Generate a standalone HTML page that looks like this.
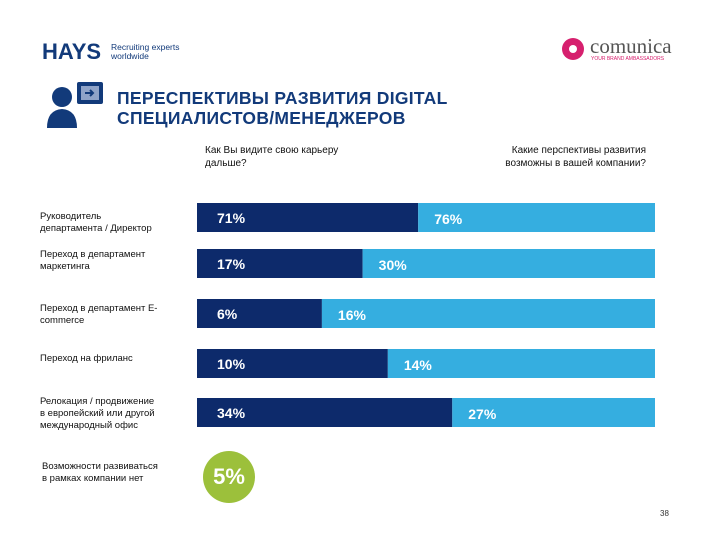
<!DOCTYPE html>
<html><head><meta charset="utf-8"><style>
body{margin:0;background:#fff;}
#wrap{position:relative;width:720px;height:540px;overflow:hidden;background:#fff;font-family:"Liberation Sans",sans-serif;}
.abs{position:absolute;}
.rl{position:absolute;left:40px;font-size:9.5px;color:#111;line-height:12px;width:140px;}
</style></head><body>
<div id="wrap">
  <div class="abs" style="left:42px;top:39px;font-size:22px;font-weight:900;color:#123a7a;">HAYS</div>
  <div class="abs" style="left:111px;top:43px;font-size:8.5px;color:#123a7a;line-height:9px;">Recruiting experts<br>worldwide</div>
  <div class="abs" style="left:562px;top:38px;">
    <div style="position:absolute;left:0;top:0;width:22px;height:22px;border-radius:50%;background:#d6206e;"></div>
    <div style="position:absolute;left:7px;top:7px;width:8px;height:8px;border-radius:50%;background:#fff;"></div>
    <div style="position:absolute;left:28px;top:-4px;font-family:'Liberation Serif',serif;font-size:21px;color:#555;">comunica</div>
    <div style="position:absolute;left:29px;top:18px;font-size:5px;color:#d6206e;white-space:nowrap;">YOUR BRAND AMBASSADORS</div>
  </div>
  <svg class="abs" style="left:45px;top:80px" width="60" height="50">
    <circle cx="17" cy="17" r="10" fill="#123a7a"/>
    <path d="M2 48 Q2 30 17 29 Q32 30 32 48 Z" fill="#123a7a"/>
    <rect x="32" y="2" width="26" height="22" rx="2" fill="#123a7a"/>
    <rect x="36" y="6" width="18" height="14" fill="#8fa3c8"/>
    <path d="M40 13 h8 M45 10 l3 3 l-3 3" stroke="#123a7a" stroke-width="2" fill="none"/>
  </svg>
  <div class="abs" style="left:117px;top:88px;font-size:17.5px;font-weight:bold;color:#123a7a;line-height:20px;letter-spacing:0.3px;white-space:nowrap;">ПЕРЕСПЕКТИВЫ РАЗВИТИЯ DIGITAL<br>СПЕЦИАЛИСТОВ/МЕНЕДЖЕРОВ</div>
  <div class="abs" style="left:205px;top:144px;font-size:10px;color:#111;line-height:13px;">Как Вы видите свою карьеру<br>дальше?</div>
  <div class="abs" style="left:460px;top:144px;width:186px;text-align:right;font-size:10px;color:#111;line-height:13px;">Какие перспективы развития<br>возможны в вашей компании?</div>
  <svg class="abs" id="chart" style="left:0;top:0" width="720" height="540"></svg>
  <div class="rl" style="top:211px;">Руководитель<br>департамента / Директор</div>
  <div class="rl" style="top:249px;">Переход в департамент<br>маркетинга</div>
  <div class="rl" style="top:303px;">Переход в департамент E-<br>commerce</div>
  <div class="rl" style="top:353px;">Переход на фриланс</div>
  <div class="rl" style="top:396px;">Релокация / продвижение<br>в европейский или другой<br>международный офис</div>
  <div class="rl" style="top:461px;left:42px;">Возможности развиваться<br>в рамках компании нет</div>
  <div class="abs" style="left:203px;top:451px;width:52px;height:52px;border-radius:50%;background:#9cc03b;color:#fff;font-size:22px;font-weight:bold;text-align:center;line-height:52px;">5%</div>
  <div class="abs" style="left:660px;top:509px;font-size:8px;color:#333;">38</div>
</div>
<script>
const categories=["Руководитель департамента / Директор","Переход в департамент маркетинга","Переход в департамент E-commerce","Переход на фриланс","Релокация / продвижение"];
const careerValues=[71,17,6,10,34];
const companyValues=[76,30,16,14,27];
const svg=document.getElementById('chart');
const NS='http://www.w3.org/2000/svg';
const x0=197,x1=655,barH=29;
const rowTops=[203,249,299,349,398];
function xSplit(i){return x0+(x1-x0)*careerValues[i]/(careerValues[i]+companyValues[i]);}
categories.forEach((c,i)=>{
  const y=rowTops[i];const xs=xSplit(i);
  const d=document.createElementNS(NS,'rect');
  d.setAttribute('x',x0);d.setAttribute('y',y);d.setAttribute('width',xs-x0);d.setAttribute('height',barH);d.setAttribute('fill','#0d2a6b');
  
  
  svg.appendChild(d);
  const l=document.createElementNS(NS,'rect');
  l.setAttribute('x',xs);l.setAttribute('y',y);l.setAttribute('width',x1-xs);l.setAttribute('height',barH);l.setAttribute('fill','#35aee0');
  
  
  svg.appendChild(l);
  const t1=document.createElementNS(NS,'text');
  t1.setAttribute('x',x0+20);t1.setAttribute('y',y+20);t1.setAttribute('fill','#fff');t1.setAttribute('font-size','14');t1.setAttribute('font-weight','bold');t1.setAttribute('font-family','Liberation Sans, sans-serif');
  t1.textContent=careerValues[i]+'%';
  
  
  svg.appendChild(t1);
  const t2=document.createElementNS(NS,'text');
  t2.setAttribute('x',xs+16);t2.setAttribute('y',y+21);t2.setAttribute('fill','#fff');t2.setAttribute('font-size','14');t2.setAttribute('font-weight','bold');t2.setAttribute('font-family','Liberation Sans, sans-serif');
  t2.textContent=companyValues[i]+'%';
  
  
  svg.appendChild(t2);
});
</script>
</body></html>
